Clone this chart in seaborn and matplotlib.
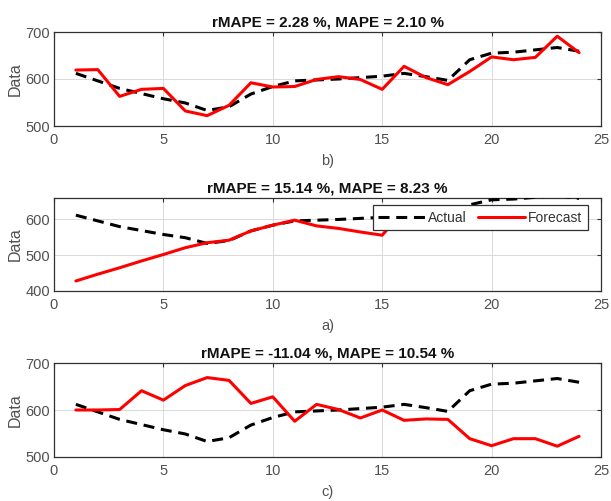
import matplotlib
matplotlib.use("Agg")
import matplotlib.pyplot as plt
import seaborn as sns
import numpy as np
import pandas as pd

# ---- data ----
steps = list(range(1, 25))
actual = [612, 596, 580, 569, 558, 549, 533, 541, 568, 584, 596, 598,
          600, 603, 606, 612, 605, 597, 641, 655, 657, 662, 667, 659]
forecast_b = [619, 620, 563, 578, 580, 532, 522, 544, 592, 583, 584, 599,
              605, 599, 578, 627, 603, 588, 616, 647, 641, 646, 691, 656]
forecast_a = [428, 447, 465, 484, 502, 521, 535, 542, 568, 584, 598, 582,
              575, 565, 556, 626, 612, 603, 615, 625, 630, 632, 635, 630]
forecast_c = [600, 600, 601, 641, 621, 652, 669, 663, 614, 628, 576, 612,
              601, 583, 600, 578, 581, 580, 539, 524, 539, 539, 523, 544]
titles = ["rMAPE = 2.28 %, MAPE = 2.10 %",
          "rMAPE = 15.14 %, MAPE = 8.23 %",
          "rMAPE = -11.04 %, MAPE = 10.54 %"]
sublabels = ["b)", "a)", "c)"]
ylims = [(500, 700), (400, 660), (500, 700)]
yticks = [[500, 600, 700], [400, 500, 600], [500, 600, 700]]
xticks = [0, 5, 10, 15, 20, 25]
series_names = ["Actual", "Forecast"]

sns.set_style("white")
plt.rcParams['font.family'] = ['Liberation Sans', 'DejaVu Sans']

fig = plt.figure(figsize=(6.11, 5.01), dpi=100)
left, width = 54 / 611, 547 / 611
boxes = [(1 - 126 / 501, 94 / 501), (1 - 291 / 501, 93 / 501), (1 - 457 / 501, 94 / 501)]
forecasts = [forecast_b, forecast_a, forecast_c]

tick_col = "#505050"
for i, (bottom, h) in enumerate(boxes):
    ax = fig.add_axes([left, bottom, width, h])
    df = pd.DataFrame({"x": steps * 2,
                       "y": actual + forecasts[i],
                       "Series": [series_names[0]] * 24 + [series_names[1]] * 24})
    sns.lineplot(data=df[df.Series == "Actual"], x="x", y="y", ax=ax,
                 color="black", linewidth=2.2, linestyle=(0, (3.6, 2.2)),
                 label="Actual", zorder=3)
    sns.lineplot(data=df[df.Series == "Forecast"], x="x", y="y", ax=ax,
                 color="#ff0000", linewidth=2.2, label="Forecast", zorder=4)
    ax.set_xlim(0, 25)
    ax.set_ylim(*ylims[i])
    ax.set_xticks(xticks)
    ax.set_yticks(yticks[i])
    ax.grid(True, color="#d9d9d9", linewidth=0.7)
    ax.set_axisbelow(True)
    for s in ax.spines.values():
        s.set_color("#303030")
        s.set_linewidth(0.9)
    ax.tick_params(direction="in", length=3, width=0.8, colors="#303030",
                   labelcolor=tick_col, labelsize=10.5, top=True, right=True)
    ax.tick_params(axis="x", pad=5)
    ax.tick_params(axis="y", pad=3)
    ax.set_title(titles[i], fontsize=11, fontweight="bold", pad=4, color="#111111")
    ax.set_ylabel("Data", fontsize=11.5, color=tick_col, labelpad=2)
    ax.set_xlabel(sublabels[i], fontsize=10.5, color=tick_col, labelpad=5)
    if i == 1:
        leg = ax.legend(loc="upper right", bbox_to_anchor=(0.976, 0.925),
                        borderaxespad=0, ncol=2, fontsize=10, handlelength=3.4,
                        handletextpad=0.2, columnspacing=0.8, frameon=True,
                        fancybox=False, framealpha=1, borderpad=0.4,
                        edgecolor="#303030")
        leg.get_frame().set_linewidth(0.9)
        leg.set_zorder(10)
        for t in leg.get_texts():
            t.set_color("#333333")
    else:
        ax.get_legend().remove()

fig.savefig("out.png", dpi=100)
